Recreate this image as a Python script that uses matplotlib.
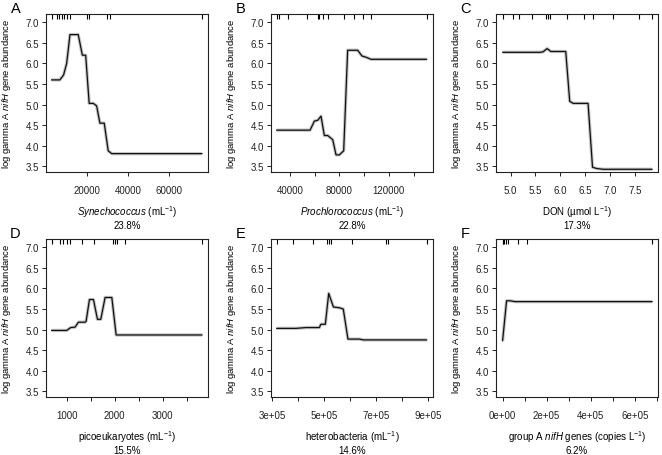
import matplotlib
matplotlib.use("Agg")
import matplotlib.pyplot as plt

plt.rcParams["font.family"] = ["Liberation Sans", "DejaVu Sans"]
plt.rcParams["mathtext.fontset"] = "custom"
plt.rcParams["mathtext.rm"] = "Liberation Sans"
plt.rcParams["mathtext.it"] = "Liberation Sans:italic"

# A: Synechococcus
syn_x = [3000, 7000, 8800, 10300, 11900, 15900, 17900, 19500, 21200, 23200,
         24800, 26400, 28500, 30400, 32100, 75800]
syn_y = [5.6, 5.6, 5.72, 6.0, 6.7, 6.7, 6.2, 6.2, 5.03, 5.03,
         4.97, 4.55, 4.55, 3.88, 3.81, 3.81]
syn_rug = [3040, 5470, 6760, 7890, 9030, 10320, 11940, 20350, 21320, 29740, 31360, 75850]
syn_ticks = [20000, 40000, 60000]
syn_labels = ["20000", "40000", "60000"]

# B: Prochlorococcus
pro_x = [29200, 56200, 59700, 62400, 65050, 67750, 70450, 74500, 77200, 79900,
         83400, 86600, 94700, 98200, 101500, 105500, 150500]
pro_y = [4.38, 4.38, 4.6, 4.62, 4.72, 4.25, 4.25, 4.15, 3.78, 3.78,
         3.88, 6.32, 6.32, 6.18, 6.15, 6.1, 6.1]
pro_rug = [29200, 30800, 38100, 53500, 62400, 63700, 67000, 70450, 83900, 92000,
           99300, 105500, 150500]
pro_ticks = [40000, 60000, 80000, 100000, 120000, 140000]
pro_labels = ["40000", "", "80000", "", "120000", ""]

# C: DON
don_x = [4.84, 5.59, 5.65, 5.735, 5.81, 6.11, 6.19, 6.26, 6.56, 6.65, 6.73, 6.86, 7.85]
don_y = [6.27, 6.27, 6.28, 6.36, 6.29, 6.29, 5.08, 5.03, 5.03, 3.48, 3.45, 3.43, 3.43]
don_rug = [4.84, 5.04, 5.17, 5.42, 5.71, 5.76, 5.79, 6.13, 6.47, 6.66, 7.06, 7.58, 7.85]
don_ticks = [5.0, 5.5, 6.0, 6.5, 7.0, 7.5]
don_labels = ["5.0", "5.5", "6.0", "6.5", "7.0", "7.5"]

# D: picoeukaryotes
pico_x = [687, 1000, 1084, 1174, 1244, 1383, 1404, 1474, 1557, 1641, 1710,
          1800, 1940, 2030, 3819]
pico_y = [4.98, 4.98, 5.05, 5.06, 5.18, 5.18, 5.2, 5.73, 5.73, 5.25, 5.25,
          5.78, 5.78, 4.87, 4.87]
pico_rug = [687, 861, 931, 1000, 1070, 1313, 1571, 1961, 2010, 2058, 2218, 3819]
pico_ticks = [1000, 1500, 2000, 2500, 3000, 3500]
pico_labels = ["1000", "", "2000", "", "3000", ""]

# E: heterobacteria
het_x = [3.17e5, 3.91e5, 4.30e5, 4.81e5, 4.87e5, 5.04e5, 5.17e5, 5.35e5, 5.58e5,
         5.73e5, 5.91e5, 6.35e5, 6.50e5, 8.94e5]
het_y = [5.03, 5.03, 5.05, 5.05, 5.13, 5.13, 5.88, 5.55, 5.53,
         5.5, 4.77, 4.77, 4.75, 4.75]
het_rug = [3.17e5, 3.81e5, 4.56e5, 5.10e5, 5.17e5, 5.24e5, 6.07e5, 7.37e5, 7.46e5, 8.94e5]
het_ticks = [3e5, 4e5, 5e5, 6e5, 7e5, 8e5, 9e5]
het_labels = ["3e+05", "", "5e+05", "", "7e+05", "", "9e+05"]

# F: group A nifH genes
grp_x = [0, 0.18e5, 0.33e5, 0.56e5, 6.79e5]
grp_y = [4.73, 5.7, 5.7, 5.68, 5.68]
grp_rug = [0, 0.03e5, 0.08e5, 0.14e5, 0.26e5, 0.68e5, 1.12e5, 6.79e5]
grp_ticks = [0, 1e5, 2e5, 3e5, 4e5, 5e5, 6e5, 7e5]
grp_labels = ["0e+00", "", "2e+05", "", "4e+05", "", "6e+05", ""]

letters = ["A", "B", "C", "D", "E", "F"]
xlabels = [r"$\mathit{Synechococcus}$ (mL$^{-1}$)",
           r"$\mathit{Prochlorococcus}$ (mL$^{-1}$)",
           r"DON (µmol L$^{-1}$)",
           r"picoeukaryotes (mL$^{-1}$)",
           r"heterobacteria (mL$^{-1}$)",
           r"group A $\mathit{nifH}$ genes (copies L$^{-1}$)"]
percents = ["23.8%", "22.8%", "17.3%", "15.5%", "14.6%", "6.2%"]

yticks = [3.5, 4.0, 4.5, 5.0, 5.5, 6.0, 6.5, 7.0]
ylabel = r"log gamma A $\mathit{nifH}$ gene abundance"

series = [
    (syn_x, syn_y, syn_rug, syn_ticks, syn_labels),
    (pro_x, pro_y, pro_rug, pro_ticks, pro_labels),
    (don_x, don_y, don_rug, don_ticks, don_labels),
    (pico_x, pico_y, pico_rug, pico_ticks, pico_labels),
    (het_x, het_y, het_rug, het_ticks, het_labels),
    (grp_x, grp_y, grp_rug, grp_ticks, grp_labels),
]
xlims = [(290, 78600), (24600, 155400), (4.704, 7.964),
         (569, 3937), (2.95e5, 9.17e5), (-0.3e5, 7.045e5)]

W, H = 662, 456
lefts = [46, 271, 496]
tops = [15, 240]
aw, ah = 161.7, 158

fig = plt.figure(figsize=(W / 100, H / 100), dpi=100)

for i, (x, y, rug, ticks, labels) in enumerate(series):
    col, row = i % 3, i // 3
    l, t = lefts[col], tops[row]
    ax = fig.add_axes([l / W, (H - t - ah) / H, aw / W, ah / H])

    ax.plot(x, y, color="#c4c4c4", linewidth=2.4, solid_capstyle="butt")
    ax.plot(x, y, color="#111111", linewidth=0.9)

    # rug of data deciles along the top
    ax.vlines(rug, 0.97, 1.0, transform=ax.get_xaxis_transform(),
              color="black", linewidth=0.8)

    ax.set_xlim(*xlims[i])
    ax.set_ylim(3.364, 7.2)
    ax.set_xticks(ticks, labels)
    ax.set_yticks(yticks, [f"{v:.1f}" for v in yticks])
    ax.tick_params(axis="both", direction="out", length=3.2, width=0.7,
                   labelsize=7, pad=2, colors="#222222")
    ax.tick_params(axis="x", pad=6)
    for s in ax.spines.values():
        s.set_linewidth(0.8)
        s.set_color("#222222")

    ax.set_ylabel(ylabel, fontsize=6.8)
    ax.yaxis.set_label_coords(-33 / aw, 0.5)

    ax.text(0.5, -39 / ah, xlabels[i], transform=ax.transAxes,
            ha="center", va="center", fontsize=7)
    ax.text(0.5, -53 / ah, percents[i], transform=ax.transAxes,
            ha="center", va="center", fontsize=7)
    ax.text(-30.5 / aw, 1 + 6 / ah, letters[i], transform=ax.transAxes,
            ha="center", va="center", fontsize=10.5)

fig.savefig("out.png", dpi=100)
